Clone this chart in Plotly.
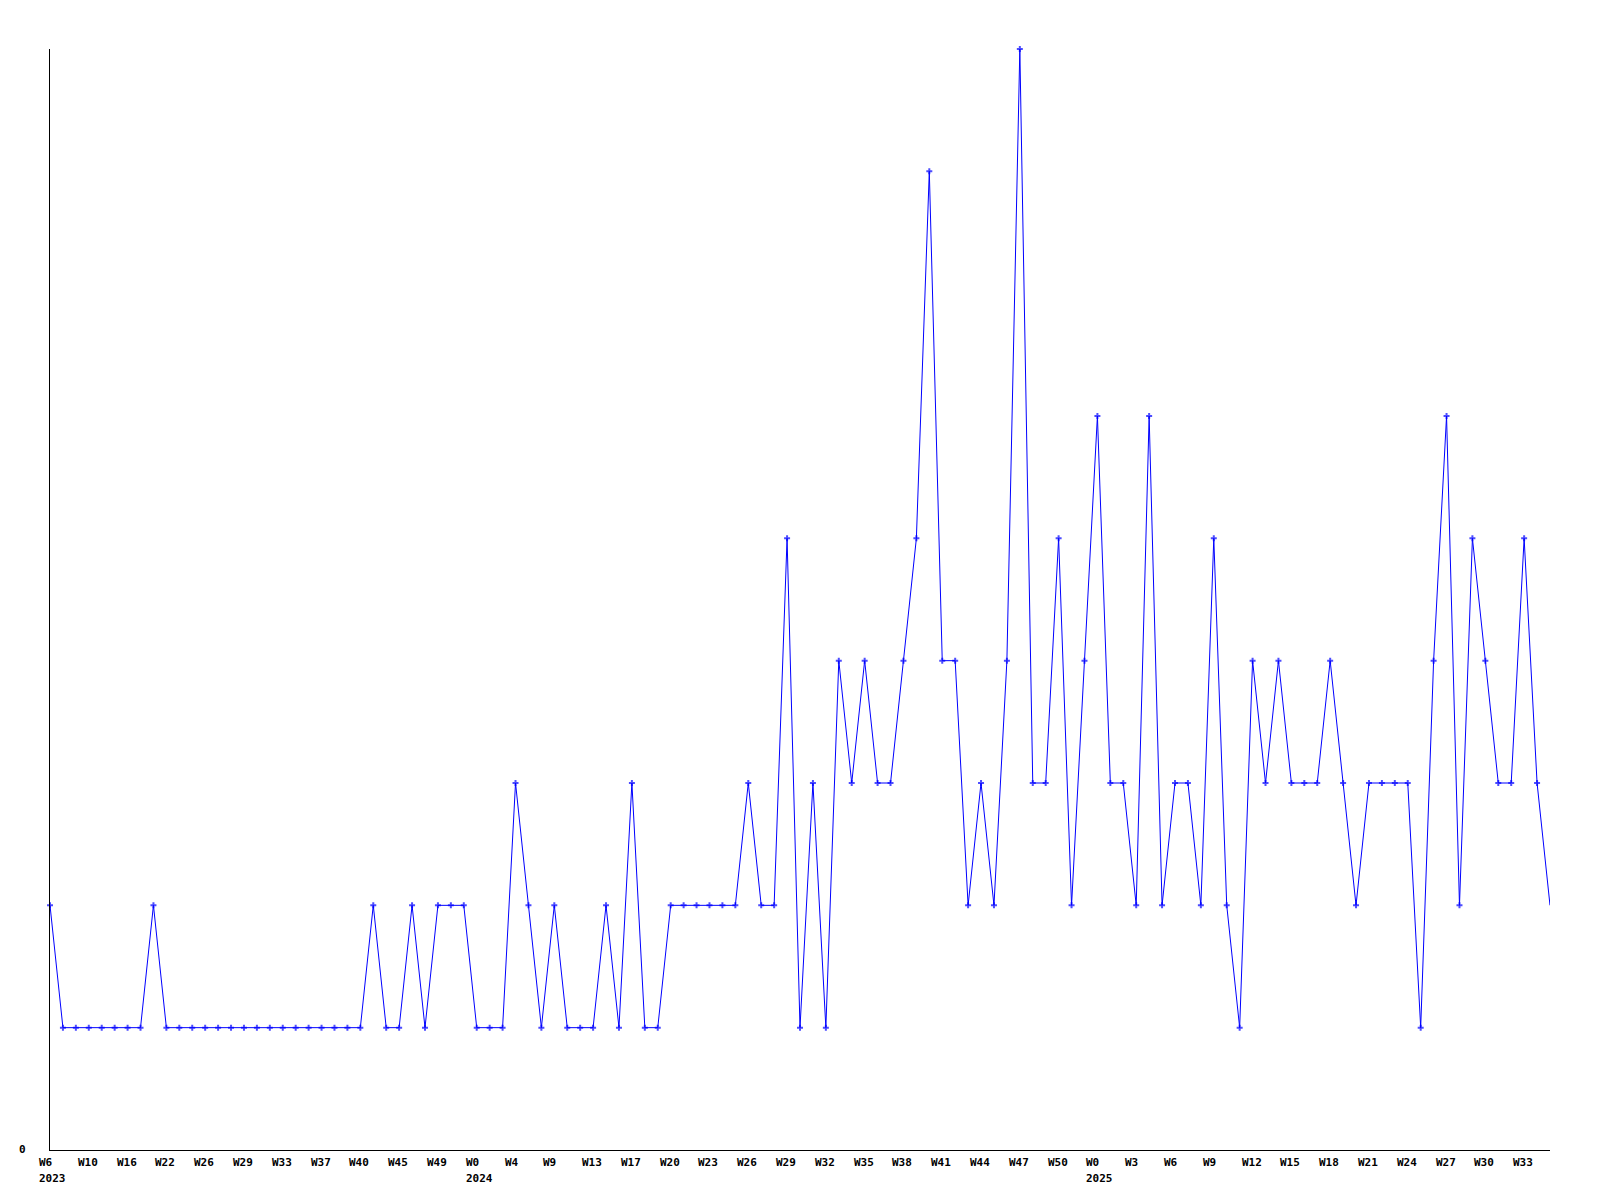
import plotly.graph_objects as go

# Weekly counts (one value per plotted week, in order)
values = [2, 1, 1, 1, 1, 1, 1, 1, 2,
          1, 1, 1, 1, 1, 1, 1, 1, 1, 1, 1, 1, 1, 1, 1, 1,
          2, 1, 1, 2, 1, 2, 2, 2, 1, 1, 1,
          3, 2, 1, 2, 1, 1, 1, 2, 1, 3, 1, 1,
          2, 2, 2, 2, 2, 2, 3, 2, 2,
          5, 1, 3, 1, 4, 3, 4, 3, 3, 4, 5, 8, 4, 4, 2, 3, 2, 4, 9, 3, 3,
          5, 2, 4, 6, 3, 3, 2, 6, 2, 3, 3, 2, 5, 2, 1, 4, 3, 4, 3, 3, 3,
          4, 3, 2, 3, 3, 3, 3, 1, 4, 6, 2, 5, 4, 3, 3, 5, 3, 2]

# Week labels shown on the x axis (every third plotted week)
week_labels = ["W6", "W10", "W16", "W22", "W26", "W29", "W33", "W37", "W40", "W45", "W49",
               "W0", "W4", "W9", "W13", "W17", "W20", "W23", "W26", "W29", "W32", "W35",
               "W38", "W41", "W44", "W47", "W50",
               "W0", "W3", "W6", "W9", "W12", "W15", "W18", "W21", "W24", "W27", "W30", "W33"]
label_step = 3

# Year labels and the week label index they sit under
year_labels = ["2023", "2024", "2025"]
year_label_pos = [0, 11, 27]

y_ticks = [0]

x = list(range(len(values)))
sizes = [5] * len(values)
sizes[-1] = 0

font = dict(family="DejaVu Sans Mono", size=11, color="black")

fig = go.Figure()
fig.add_trace(go.Scatter(
    x=x, y=values, mode="lines+markers",
    line=dict(color="#0000ff", width=1),
    marker=dict(symbol="cross", size=sizes, color="#0000ff", line=dict(width=0)),
    cliponaxis=False, showlegend=False, hoverinfo="skip"))

annotations = []
for k, lab in enumerate(week_labels):
    annotations.append(dict(x=k * label_step, y=0, xref="x", yref="y",
                            text="<b>" + lab + "</b>", showarrow=False,
                            xanchor="left", yanchor="top", xshift=-13, yshift=-4,
                            font=font))
for lab, pos in zip(year_labels, year_label_pos):
    annotations.append(dict(x=pos * label_step, y=0, xref="x", yref="y",
                            text="<b>" + lab + "</b>", showarrow=False,
                            xanchor="left", yanchor="top", xshift=-13, yshift=-20,
                            font=font))
for t in y_ticks:
    annotations.append(dict(x=0, y=t, xref="x", yref="y", text="<b>" + str(t) + "</b>",
                            showarrow=False, xanchor="right", yanchor="middle",
                            xshift=-22, yshift=1, font=font))

fig.update_layout(
    width=1584, height=1184,
    margin=dict(l=42, r=42, t=41, b=42),
    paper_bgcolor="white", plot_bgcolor="white",
    annotations=annotations,
    xaxis=dict(range=[0, len(values) - 1], showgrid=False, zeroline=False,
               showline=True, linecolor="black", linewidth=1,
               showticklabels=False, ticks=""),
    yaxis=dict(range=[0, max(values)], showgrid=False, zeroline=False,
               showline=True, linecolor="black", linewidth=1,
               showticklabels=False, ticks=""),
)

fig.write_html("out.html")
